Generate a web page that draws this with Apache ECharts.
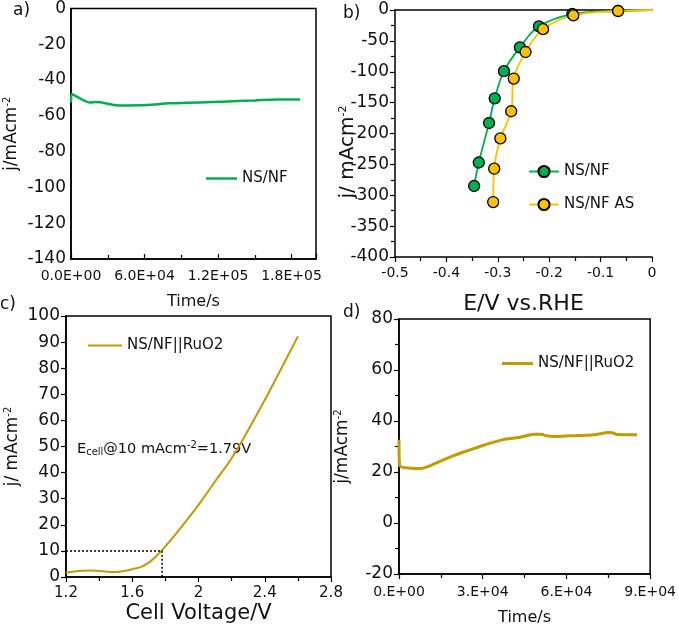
<!DOCTYPE html>
<html>
<head>
<meta charset="utf-8">
<script src="https://cdn.jsdelivr.net/npm/echarts@6/dist/echarts.min.js"></script>
<style>html,body{margin:0;padding:0;background:#fff}#c{width:679px;height:629px}</style>
</head>
<body>
<div id="c"></div>
<script>
// ---- Panel a: chronoamperometry (NS/NF) ----
const A_time = [0, 600, 8000, 15500, 20000, 24000, 28000, 35000, 45000, 62000, 80000, 95000, 115000, 132000, 150000, 168000, 187000];
const A_j    = [-52.5, -47.8, -50.5, -52.6, -52.3, -52.4, -53.0, -53.9, -54.2, -54.0, -53.0, -52.7, -52.3, -51.8, -51.4, -50.9, -50.9];

// ---- Panel b: polarization curves ----
const B_NSNF_E = [-0.346, -0.337, -0.317, -0.306, -0.288, -0.257, -0.220, -0.155, -0.066, 0];
const B_NSNF_j = [-285, -247, -183, -143, -99, -60.5, -26.5, -6.5, -1.6, 0];
const B_AS_E   = [-0.309, -0.307, -0.295, -0.274, -0.269, -0.246, -0.212, -0.153, -0.066, 0];
const B_AS_j   = [-311, -257, -208, -164, -111, -68, -31, -8.6, -1.6, 0];
const B_hiddenLast = true; // last point (0,0) has no marker

// ---- Panel c: cell polarization ----
const C_V = [1.2, 1.25, 1.3, 1.35, 1.4, 1.45, 1.5, 1.55, 1.6, 1.65, 1.7, 1.75, 1.8, 1.85, 1.9, 2.0, 2.1, 2.2, 2.3, 2.4, 2.5, 2.6];
const C_j = [1.6, 2.1, 2.4, 2.5, 2.3, 2.0, 1.9, 2.3, 3.0, 3.8, 5.5, 8.3, 11.7, 15.5, 19.4, 27.6, 36.6, 45.5, 56.3, 67.8, 79.9, 92.2];
const C_refV = [1.2, 1.78, 1.78];
const C_refj = [10, 10, 0];

// ---- Panel d: cell stability ----
const D_time = [0, 200, 4400, 7900, 10000, 13200, 20300, 25000, 30100, 36900, 43300, 48700, 51000, 52800, 55700, 61700, 69900, 75200, 76500, 78200, 85300];
const D_j    = [32.6, 22.6, 21.5, 21.4, 22.0, 23.5, 26.7, 28.5, 30.4, 32.6, 33.6, 34.8, 34.8, 34.2, 33.9, 34.2, 34.6, 35.5, 35.4, 34.7, 34.6];

// axis ranges [min, max, interval]
const A_xRange = [0, 200000, 60000], A_yRange = [-140, 0, 20];
const B_xRange = [-0.5, 0, 0.1],     B_yRange = [-400, 0, 50];
const C_xRange = [1.2, 2.8, 0.4],    C_yRange = [0, 100, 10];
const D_xRange = [0, 90000, 30000],  D_yRange = [-20, 80, 20];

const GREEN = '#00b050', YELLOW = '#ffc000', GOLD = '#c49a00';
const FONT = 'DejaVu Sans, sans-serif';

function sci(v, digits) {
  if (v === 0) return (digits ? (0).toFixed(digits) : '0.') + 'E+00';
  const e = Math.floor(Math.log10(Math.abs(v)) + 1e-9);
  const m = v / Math.pow(10, e);
  const ms = digits ? m.toFixed(digits) : m.toFixed(0) + '.';
  return ms + 'E' + (e < 0 ? '-' : '+') + String(Math.abs(e)).padStart(2, '0');
}
const zip = (a, b) => a.map((v, i) => [v, b[i]]);

const lineAx = {show: true, lineStyle: {color: '#000', width: 1.5}};
const supRich = {sup: {fontSize: 10, fontFamily: FONT, color: '#111', padding: [0, 0, 9, 0]}};
const tickStyle = {color: '#000', width: 1.2};

function xAx(grid, r, opts) {
  return Object.assign({
    type: 'value', gridIndex: grid, min: r[0], max: r[1], interval: r[2],
    axisLine: Object.assign({onZero: false}, lineAx),
    axisTick: {show: true, inside: false, length: 5, lineStyle: tickStyle},
    minorTick: {show: true, splitNumber: 2, length: 4, lineStyle: tickStyle},
    splitLine: {show: false},
    axisLabel: {color: '#111', fontSize: 14, fontFamily: FONT, margin: 9},
    nameLocation: 'middle', nameTextStyle: {color: '#111', fontSize: 16, fontFamily: FONT}
  }, opts);
}
function yAx(grid, r, opts) {
  return Object.assign({
    type: 'value', gridIndex: grid, min: r[0], max: r[1], interval: r[2],
    axisLine: Object.assign({onZero: false}, lineAx),
    axisTick: {show: true, inside: false, length: 5, lineStyle: tickStyle},
    minorTick: {show: false, splitNumber: 2, length: 4, lineStyle: tickStyle},
    splitLine: {show: false},
    axisLabel: {color: '#111', fontSize: 17, fontFamily: FONT, margin: 6},
    nameLocation: 'middle', nameRotate: 90,
    nameTextStyle: {color: '#111', fontSize: 17, fontFamily: FONT, rich: supRich}
  }, opts);
}

const border = {show: true, borderColor: '#000', borderWidth: 1.5, backgroundColor: 'transparent'};
const legText = {color: '#111', fontSize: 15, fontFamily: FONT};

const option = {
  animation: false,
  backgroundColor: '#fff',
  textStyle: {fontFamily: FONT},
  grid: [
    Object.assign({left: 71, top: 5, width: 245, height: 254}, border),
    {left: 395, top: 10, width: 257, height: 247, show: false},
    Object.assign({left: 66, top: 316, width: 265, height: 261}, border),
    Object.assign({left: 399, top: 319, width: 254, height: 255}, border)
  ],
  xAxis: [
    xAx(0, A_xRange, {name: 'Time/s', nameGap: 35,
      axisTick: {show: true, inside: true, length: 5, lineStyle: tickStyle},
      axisLabel: {color: '#111', fontSize: 14, fontFamily: FONT, margin: 10, showMaxLabel: false, formatter: v => sci(v, 1)}}),
    xAx(1, B_xRange, {name: 'E/V vs.RHE', nameGap: 36, nameTextStyle: {color: '#111', fontSize: 22, fontFamily: FONT}}),
    xAx(2, C_xRange, {name: 'Cell Voltage/V', nameGap: 26, axisLabel: {color: '#111', fontSize: 15, fontFamily: FONT, margin: 9},
      nameTextStyle: {color: '#111', fontSize: 21, fontFamily: FONT}}),
    xAx(3, D_xRange, {name: 'Time/s', nameGap: 36,
      axisLabel: {color: '#111', fontSize: 14, fontFamily: FONT, margin: 11, formatter: v => sci(v, 0)}}),
    // top border of panel b
    {type: 'value', gridIndex: 1, position: 'top', min: B_xRange[0], max: B_xRange[1],
     axisLine: lineAx, axisTick: {show: false}, axisLabel: {show: false}, splitLine: {show: false}}
  ],
  yAxis: [
    yAx(0, A_yRange, {name: 'j/mAcm{sup|-2}', nameGap: 50, axisTick: {show: false},
      axisLabel: {color: '#111', fontSize: 17, fontFamily: FONT, margin: 5}}),
    yAx(1, B_yRange, {name: '', minorTick: {show: true, splitNumber: 2, length: 4, lineStyle: tickStyle}}),
    yAx(2, C_yRange, {name: 'j/ mAcm{sup|-2}', nameGap: 44}),
    yAx(3, D_yRange, {name: 'j/mAcm{sup|-2}', nameGap: 47, minorTick: {show: true, splitNumber: 2, length: 4, lineStyle: tickStyle}})
  ],
  legend: [
    {data: [{name: 'NS/NF', icon: 'rect'}], left: 201, top: 166, itemWidth: 31, itemHeight: 2.5, textStyle: legText},
    {data: ['NS/NF ', 'NS/NF AS'], orient: 'vertical', left: 523, top: 159, itemWidth: 30, itemHeight: 14, itemGap: 18, textStyle: legText},
    {data: [{name: 'NS/NF||RuO2', icon: 'rect'}], left: 83, top: 333, itemWidth: 34, itemHeight: 2, textStyle: legText},
    {data: [{name: 'NS/NF||RuO2 ', icon: 'rect'}], left: 497, top: 351, itemWidth: 31, itemHeight: 3, textStyle: legText}
  ],
  series: [
    {name: 'NS/NF', type: 'line', xAxisIndex: 0, yAxisIndex: 0, data: zip(A_time, A_j),
     symbol: 'none', smooth: 0.3, lineStyle: {color: GREEN, width: 2.5}, itemStyle: {color: GREEN}},
    {name: 'NS/NF ', type: 'line', xAxisIndex: 1, yAxisIndex: 1,
     data: zip(B_NSNF_E, B_NSNF_j).map((p, i, arr) => (B_hiddenLast && i === arr.length - 1) ? {value: p, symbol: 'none'} : p),
     symbol: 'circle', symbolSize: 11, smooth: 0.35,
     lineStyle: {color: GREEN, width: 1.8}, itemStyle: {color: GREEN, borderColor: '#000', borderWidth: 1.3}},
    {name: 'NS/NF AS', type: 'line', xAxisIndex: 1, yAxisIndex: 1,
     data: zip(B_AS_E, B_AS_j).map((p, i, arr) => (B_hiddenLast && i === arr.length - 1) ? {value: p, symbol: 'none'} : p),
     symbol: 'circle', symbolSize: 11, smooth: 0.35,
     lineStyle: {color: YELLOW, width: 1.8}, itemStyle: {color: YELLOW, borderColor: '#000', borderWidth: 1.3}},
    {name: 'NS/NF||RuO2', type: 'line', xAxisIndex: 2, yAxisIndex: 2, data: zip(C_V, C_j),
     symbol: 'none', smooth: 0.4, lineStyle: {color: GOLD, width: 2}, itemStyle: {color: GOLD}},
    {name: 'ref', type: 'line', xAxisIndex: 2, yAxisIndex: 2, data: zip(C_refV, C_refj),
     symbol: 'none', lineStyle: {color: '#000', width: 1.5, type: [2, 2]}, silent: true},
    {name: 'NS/NF||RuO2 ', type: 'line', xAxisIndex: 3, yAxisIndex: 3, data: zip(D_time, D_j),
     symbol: 'none', smooth: 0.3, lineStyle: {color: GOLD, width: 3}, itemStyle: {color: GOLD}}
  ],
  graphic: [
    {type: 'text', left: 13, top: 2, style: {text: 'a)', fontSize: 17, fontFamily: FONT, fill: '#111'}},
    {type: 'text', left: 343, top: 5, style: {text: 'b)', fontSize: 17, fontFamily: FONT, fill: '#111'}},
    {type: 'text', left: 0, top: 296, style: {text: 'c)', fontSize: 17, fontFamily: FONT, fill: '#111'}},
    {type: 'text', left: 343, top: 304, style: {text: 'd)', fontSize: 17, fontFamily: FONT, fill: '#111'}},
    {type: 'text', x: 348, y: 152, rotation: Math.PI / 2, style: {
      text: 'j/ mAcm{sup|-2}', fontSize: 20, fontFamily: FONT, fill: '#111', align: 'center', verticalAlign: 'middle',
      rich: {sup: {fontSize: 11, fontFamily: FONT, fill: '#111', padding: [0, 0, 10, 0]}}}},
    {type: 'text', left: 77, top: 440, style: {
      text: 'E{sub|cell}@10 mAcm{sup|-2}=1.79V', fontSize: 14.5, fontFamily: FONT, fill: '#111',
      rich: {sub: {fontSize: 10, fontFamily: FONT, fill: '#111', padding: [6, 0, 0, 0]},
             sup: {fontSize: 10, fontFamily: FONT, fill: '#111', padding: [0, 0, 8, 0]}}
    }}
  ]
};

const chart = echarts.init(document.getElementById('c'));
chart.setOption(option);
</script>
</body>
</html>
